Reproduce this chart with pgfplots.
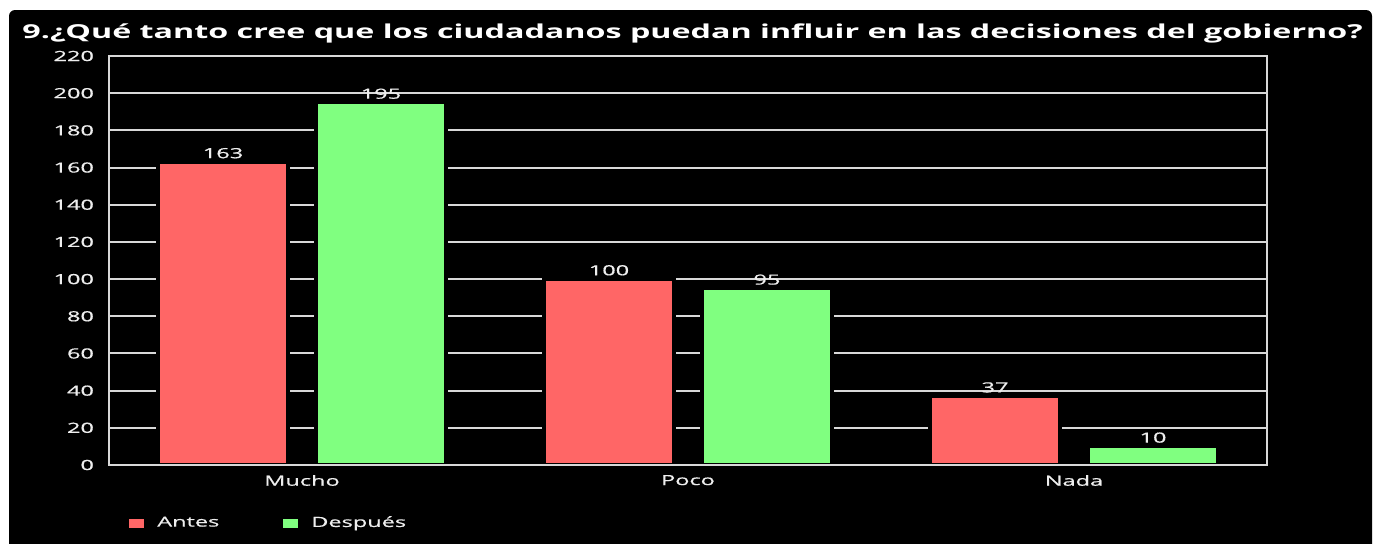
\documentclass[border=0pt]{standalone}
\usepackage{pgfplots}
\pgfplotsset{compat=1.18}
\usepackage{fontspec}
% the reference text is stretched sideways
\setmainfont{Open Sans}[FakeStretch=1.68]
\newfontfamily\semib{Open Sans}[FakeStretch=1.68, FakeBold=0.6]
\definecolor{antes}{HTML}{FF6666}
\definecolor{despues}{HTML}{80FF80}
\definecolor{gridc}{HTML}{D8D8D8}
\definecolor{labc}{HTML}{EEEEEE}

\begin{document}
\begin{tikzpicture}
% page 1377x543 px at 0.5pt per px
\path[use as bounding box] (0pt,0pt) rectangle (688.5pt,271.5pt);
\fill[white] (0pt,0pt) rectangle (688.5pt,271.5pt);
\fill[black, rounded corners=3pt] (4.5pt,-10pt) rectangle (686pt,266.5pt);
\node[anchor=base west, inner sep=0pt, text=white, font=\bfseries\fontsize{9.6}{11}\selectfont]
  at (11pt,252.5pt) {9.¿Qué tanto cree que los ciudadanos puedan influir en las decisiones del gobierno?};
\begin{axis}[
  at={(54.5pt,39pt)}, anchor=south west,
  scale only axis, width=579pt, height=204.5pt,
  ybar=14pt, bar width=65pt,
  xmin=-0.5, xmax=2.5, ymin=0, ymax=220,
  xtick={0,1,2}, xticklabels={Mucho,Poco,Nada},
  ytick={0,20,...,220},
  ymajorgrids,
  grid style={gridc, line width=1pt},
  axis line style={gridc, line width=1pt},
  major tick length=0pt,
  /pgf/number format/assume math mode=true,
  tick label style={text=labc, font=\semib\fontsize{7}{8}\selectfont},
  yticklabel style={xshift=-4pt},
  xticklabel style={yshift=-1.5pt},
  nodes near coords,
  every node near coord/.append style={text=labc, yshift=-2.5pt, font=\semib\fontsize{7}{8}\selectfont},
  legend image code/.code={\fill[#1, draw=none] (0pt,-2.25pt) rectangle (7.5pt,2.25pt); \path (11pt,0pt);},
  legend style={at={(0.012,-0.142)}, anchor=west, draw=none, fill=black,
    text=labc, font=\semib\fontsize{7}{8}\selectfont, legend columns=2,
    /tikz/every even column/.append style={column sep=30pt}},
]
\addplot[fill=antes, draw=black, line width=2pt] coordinates {(0,163) (1,100) (2,37)};
\addlegendentry{Antes}
\addplot[fill=despues, draw=black, line width=2pt] coordinates {(0,195) (1,95) (2,10)};
\addlegendentry{Después}
\draw[gridc, line width=1pt] (rel axis cs:0,0) -- (rel axis cs:1,0);
\end{axis}
\end{tikzpicture}
\end{document}
